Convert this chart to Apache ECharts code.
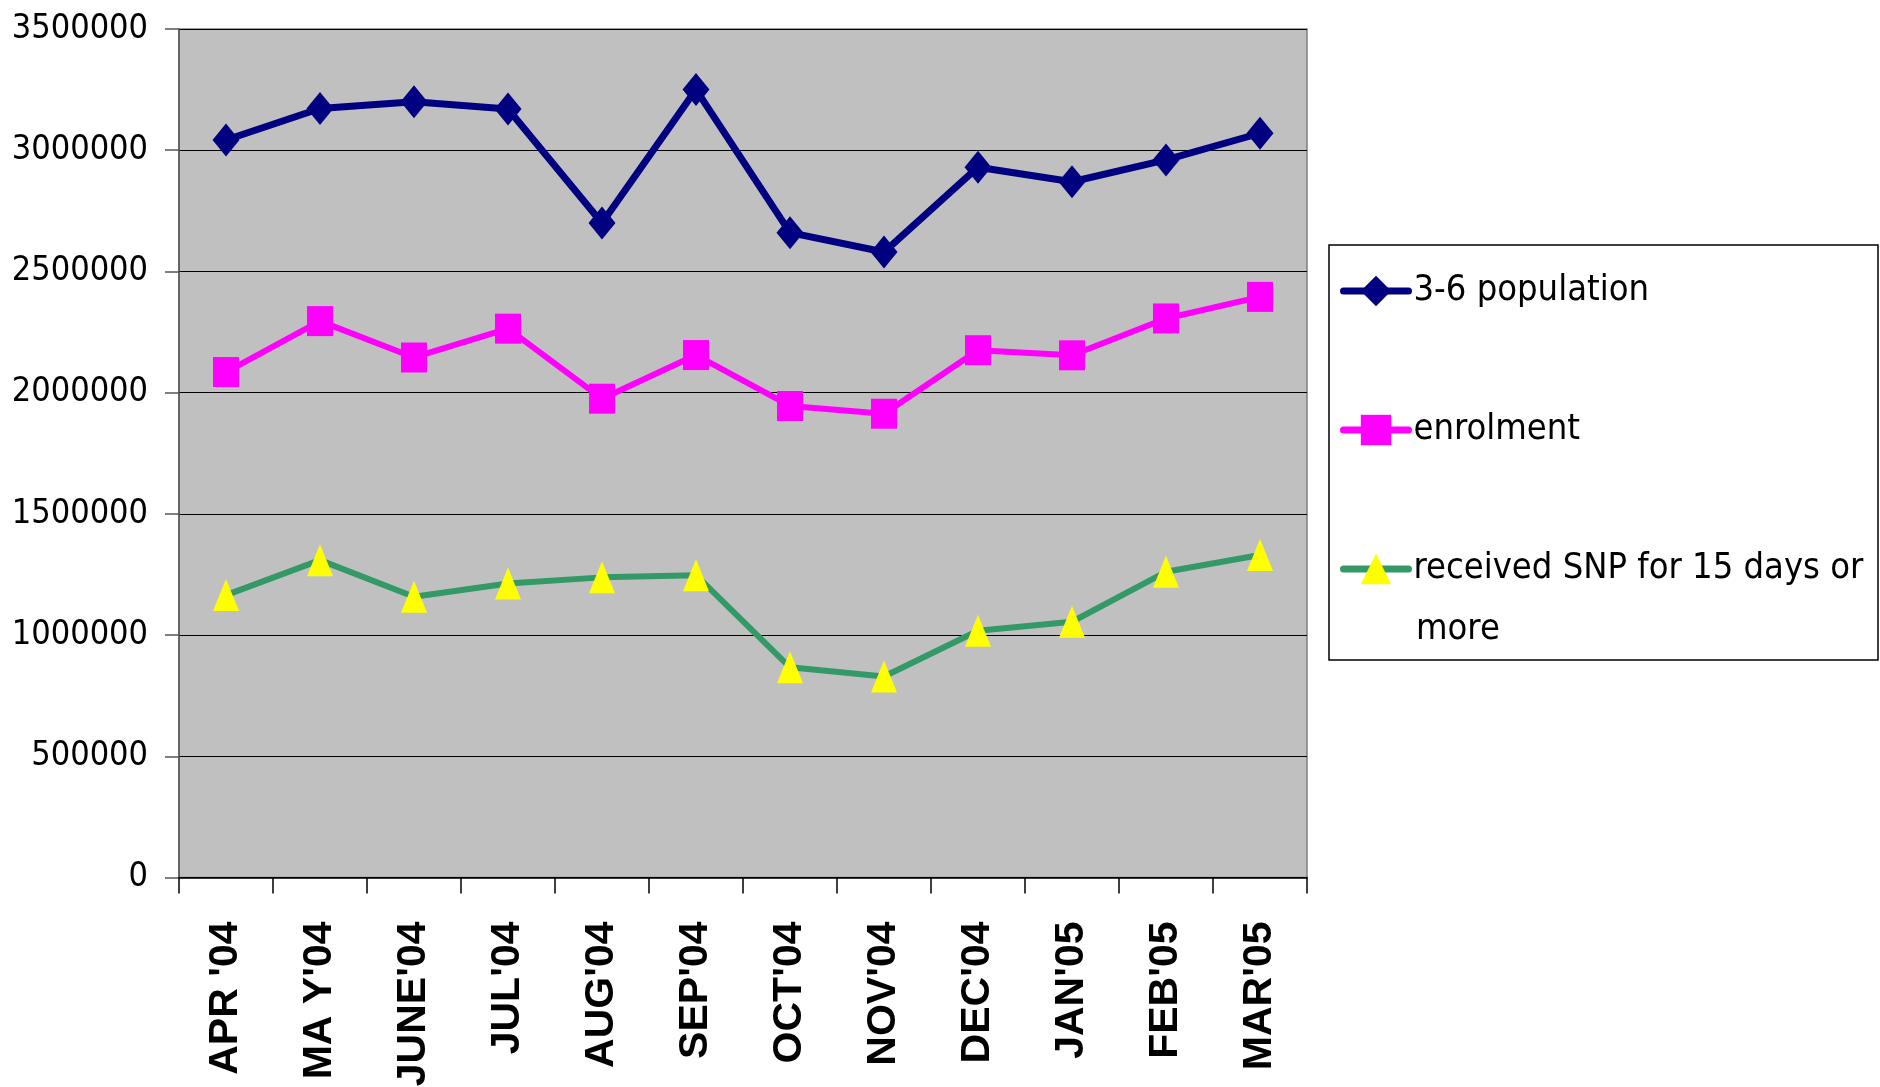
<!DOCTYPE html>
<html>
<head>
<meta charset="utf-8">
<script src="https://cdn.jsdelivr.net/npm/echarts@6/dist/echarts.min.js"></script>
<style>
html,body{margin:0;padding:0;background:#fff;}
#chart{width:1880px;height:1087px;}
</style>
</head>
<body>
<div id="chart"></div>
<script>
const categories = ["APR '04", "MA Y'04", "JUNE'04", "JUL'04", "AUG'04", "SEP'04", "OCT'04", "NOV'04", "DEC'04", "JAN'05", "FEB'05", "MAR'05"];
const seriesNames = ["3-6 population", "enrolment", "received SNP for 15 days or more"];
const population = [3042000, 3172000, 3200000, 3170000, 2700000, 3250000, 2660000, 2580000, 2930000, 2870000, 2960000, 3070000];
const enrolment = [2085000, 2295000, 2145000, 2264000, 1975000, 2155000, 1945000, 1913000, 2175000, 2154000, 2306000, 2395000];
const snp = [1165000, 1309000, 1158000, 1213000, 1238000, 1247000, 867000, 829000, 1018000, 1055000, 1261000, 1330000];
const yTicks = [0, 500000, 1000000, 1500000, 2000000, 2500000, 3000000, 3500000];

const narrow = "'Liberation Sans Narrow', 'DejaVu Sans Condensed', 'Arial Narrow', sans-serif";
const chart = echarts.init(document.getElementById('chart'));
chart.setOption({
  animation: false,
  backgroundColor: '#ffffff',
  grid: {
    left: 179, right: 573, top: 29, bottom: 209.5,
    outerBoundsMode: 'none', containLabel: false,
    show: true, backgroundColor: '#c0c0c0', borderColor: '#808080', borderWidth: 1.5
  },
  xAxis: {
    type: 'category',
    data: categories,
    boundaryGap: true,
    axisLine: { lineStyle: { color: '#000', width: 1.5 } },
    axisTick: { show: true, inside: false, length: 16, alignWithLabel: false, lineStyle: { color: '#000', width: 1.5 } },
    axisLabel: {
      rotate: 90, margin: 44, interval: 0, hideOverlap: false,
      fontFamily: "'Liberation Sans', Arial, sans-serif", fontWeight: 'bold', fontSize: 41, color: '#000'
    }
  },
  yAxis: {
    type: 'value',
    min: yTicks[0], max: yTicks[yTicks.length - 1], interval: yTicks[1] - yTicks[0],
    axisLine: { show: true, lineStyle: { color: '#555', width: 1.5 } },
    axisTick: { show: true, inside: false, length: 14, lineStyle: { color: '#555', width: 1.5 } },
    splitLine: { show: true, lineStyle: { color: '#000', width: 1.2 } },
    axisLabel: {
      margin: 31, fontFamily: narrow, fontSize: 34, color: '#000',
      formatter: v => String(v)
    }
  },
  legend: {
    orient: 'vertical',
    left: 1340, top: 266,
    padding: 0,
    itemWidth: 65, itemHeight: 38, itemGap: 89,
    textStyle: { fontFamily: narrow, fontSize: 36, color: '#000', lineHeight: 50 },
    lineStyle: { width: 7, cap: 'round' },
    formatter: name => name === seriesNames[2] ? 'received SNP for 15 days or' : name,
    data: seriesNames
  },
  graphic: [
    { type: 'rect', z: -1, shape: { x: 1329, y: 245, width: 549, height: 415 },
      style: { fill: '#fff', stroke: '#000', lineWidth: 1.5 } },
    { type: 'text', x: 1416, y: 630, style: { text: 'more', font: "36px " + narrow, fill: '#000', verticalAlign: 'middle' } }
  ],
  series: [
    {
      name: seriesNames[0], type: 'line', data: population,
      symbol: 'diamond', symbolSize: [27, 33],
      lineStyle: { color: '#000080', width: 7 },
      itemStyle: { color: '#000080' }
    },
    {
      name: seriesNames[1], type: 'line', data: enrolment,
      symbol: 'rect', symbolSize: [26, 30],
      lineStyle: { color: '#ff00ff', width: 6 },
      itemStyle: { color: '#ff00ff' }
    },
    {
      name: seriesNames[2], type: 'line', data: snp,
      symbol: 'triangle', symbolSize: [26, 32],
      lineStyle: { color: '#339966', width: 6 },
      itemStyle: { color: '#ffff00' }
    }
  ]
});
</script>
</body>
</html>
